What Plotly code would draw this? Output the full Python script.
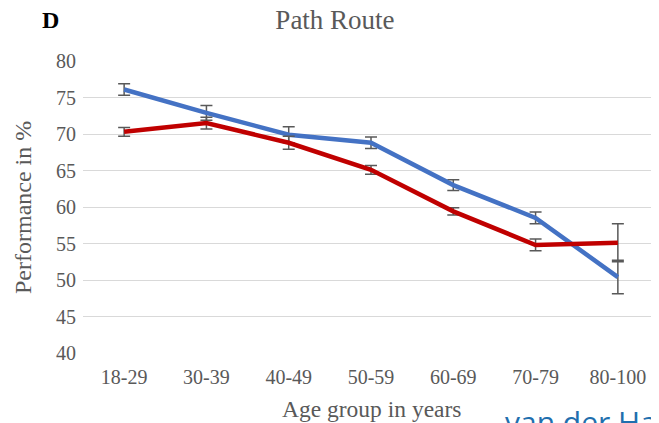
import plotly.graph_objects as go

age_groups = ["18-29", "30-39", "40-49", "50-59", "60-69", "70-79", "80-100"]
blue_values = [76.1, 72.9, 69.9, 68.8, 63.0, 58.5, 50.4]
blue_errors = [0.8, 1.0, 1.1, 0.8, 0.75, 0.8, 2.3]
red_values = [70.3, 71.5, 68.8, 65.1, 59.4, 54.8, 55.1]
red_errors = [0.6, 0.8, 0.9, 0.6, 0.5, 0.8, 2.6]
y_ticks = [40, 45, 50, 55, 60, 65, 70, 75, 80]

serif = "Liberation Serif, Times New Roman, serif"
grey = "#595959"

fig = go.Figure()
fig.add_trace(go.Scatter(
    x=age_groups, y=blue_values, mode="lines",
    line=dict(color="#4472C4", width=4.5),
    error_y=dict(type="data", array=blue_errors, visible=True,
                 color=grey, thickness=1.5, width=6),
    showlegend=False,
))
fig.add_trace(go.Scatter(
    x=age_groups, y=red_values, mode="lines",
    line=dict(color="#C00000", width=4.5),
    error_y=dict(type="data", array=red_errors, visible=True,
                 color=grey, thickness=1.5, width=6),
    showlegend=False,
))

fig.update_layout(
    width=651, height=415,
    margin=dict(l=75, r=0, t=53, b=70, autoexpand=False),
    paper_bgcolor="white", plot_bgcolor="white",
    font=dict(family=serif, color=grey, size=20),
    title=dict(text="Path Route", xref="container", x=0.5023, xanchor="center",
               yref="container", y=0.972, yanchor="middle",
               font=dict(family=serif, size=27, color=grey)),
    xaxis=dict(
        type="category", range=[-0.5, 6.5], automargin=False,
        showgrid=False, showline=False, zeroline=False, ticks="",
        ticklabelstandoff=10,
        tickfont=dict(family=serif, size=20, color=grey),
    ),
    yaxis=dict(
        range=[40, 80], tickvals=y_ticks, automargin=False,
        showgrid=True, gridcolor="#d9d9d9", gridwidth=1.2,
        showline=False, zeroline=False, ticks="",
        ticklabelstandoff=6,
        tickfont=dict(family=serif, size=20, color=grey),
    ),
    annotations=[
        dict(text="<b>D</b>", xref="paper", yref="paper", x=-0.0556, y=1.14,
             xanchor="center", yanchor="middle", showarrow=False,
             font=dict(family=serif, size=24, color="black")),
        dict(text="Performance in %", xref="paper", yref="paper", x=-0.1042, y=0.5,
             xanchor="center", yanchor="middle", showarrow=False, textangle=-90,
             font=dict(family=serif, size=24, color=grey)),
        dict(text="Age group in years", xref="paper", yref="paper", x=0.5017, y=-0.1918,
             xanchor="center", yanchor="middle", showarrow=False,
             font=dict(family=serif, size=23.5, color=grey)),
        dict(text="van der Ham", xref="paper", yref="paper", x=0.729, y=-0.1575,
             xanchor="left", yanchor="top", showarrow=False,
             font=dict(family="Open Sans, Noto Sans, sans-serif", size=30, color="#1f6fae")),
    ],
)

fig.write_html("out.html")
